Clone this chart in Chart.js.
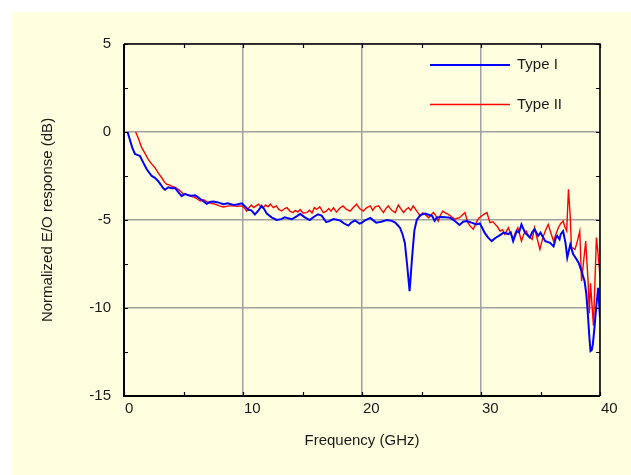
<!DOCTYPE html>
<html lang="en">
<head>
<meta charset="utf-8" />
<title>Normalized E/O response</title>
<script src="https://cdn.jsdelivr.net/npm/chart.js@4.4.1/dist/chart.umd.min.js"></script>
<style>
  html,body{margin:0;padding:0;background:#fff;}
  canvas{display:block;}
</style>
</head>
<body>
<canvas id="eo" width="631" height="475"></canvas>
<script>
// Measured E/O response of the two modulator types (frequency in GHz, response in dB)
const freqTypeI = [
  0.3, 0.5, 0.7, 0.92, 1.1, 1.34, 1.62, 1.9, 2.1, 2.33, 2.6, 2.86, 3.1, 3.3, 3.45, 3.6, 3.73, 4.0, 4.29, 4.55,
  4.85, 5.13, 5.4, 5.7, 5.97, 6.2, 6.5, 6.95, 7.2, 7.5, 7.9, 8.35, 8.7, 9.2, 9.5, 9.9, 10.2, 10.45, 10.7, 11.0,
  11.3, 11.57, 11.8, 12.0, 12.4, 12.83, 13.2, 13.5, 14.1, 14.5, 14.8, 15.2, 15.6, 16.0, 16.3, 16.6, 17.0, 17.3, 17.6, 17.9,
  18.2, 18.5, 18.85, 19.1, 19.4, 19.8, 20.0, 20.3, 20.7, 21.0, 21.2, 21.6, 22.1, 22.5, 22.8, 23.0, 23.2, 23.4, 23.6, 23.8,
  24.0, 24.2, 24.4, 24.6, 24.9, 25.3, 25.6, 25.9, 26.1, 26.3, 26.6, 27.0, 27.4, 27.8, 28.2, 28.5, 28.8, 29.2, 29.6, 29.9,
  30.1, 30.3, 30.6, 30.9, 31.2, 31.5, 31.9, 32.3, 32.5, 32.7, 33.0, 33.2, 33.4, 33.7, 34.1, 34.3, 34.5, 34.8, 35.0, 35.4,
  35.8, 36.1, 36.3, 36.4, 36.6, 36.7, 36.9, 37.1, 37.25, 37.5, 37.75, 38.0, 38.2, 38.45, 38.7, 38.85, 39.0, 39.1, 39.2, 39.3,
  39.4, 39.55, 39.7, 39.85, 40.0
];
const respTypeI = [
  0, -0.45, -0.9, -1.25, -1.3, -1.36, -1.74, -2.1, -2.3, -2.5, -2.6, -2.78, -3.0, -3.2, -3.28, -3.2, -3.14, -3.2, -3.18, -3.4,
  -3.64, -3.52, -3.6, -3.62, -3.6, -3.7, -3.85, -4.08, -3.98, -3.95, -4.0, -4.1, -4.05, -4.15, -4.12, -4.05, -4.25, -4.42, -4.45, -4.68,
  -4.45, -4.2, -4.4, -4.64, -4.85, -5.0, -4.95, -4.85, -4.96, -4.8, -4.65, -4.85, -5.0, -4.8, -4.68, -4.75, -5.12, -5.05, -4.95, -4.98,
  -5.05, -5.2, -5.32, -5.15, -5.02, -5.2, -5.15, -5.0, -4.88, -5.05, -5.15, -5.1, -5.0, -5.05, -5.15, -5.3, -5.45, -5.8, -6.3, -7.6,
  -9.05, -7.2, -5.6, -5.0, -4.72, -4.64, -4.7, -4.78, -5.05, -4.85, -4.83, -4.85, -4.87, -5.06, -5.28, -5.1, -5.06, -5.15, -5.25, -5.2,
  -5.44, -5.72, -6.0, -6.2, -6.02, -5.9, -5.72, -5.8, -5.7, -6.2, -5.63, -5.7, -5.25, -5.72, -6.0, -5.7, -5.53, -5.9, -5.72, -6.2,
  -6.3, -6.5, -6.0, -5.9, -6.1, -5.8, -5.63, -6.3, -7.14, -6.4, -6.95, -7.2, -7.43, -7.9, -8.47, -9.2, -10.55, -11.6, -12.45, -12.4,
  -12.06, -11.0, -9.8, -8.85, -10.55
];

const freqTypeII = [
  0.98, 1.2, 1.49, 1.75, 2.04, 2.3, 2.6, 2.9, 3.17, 3.4, 3.59, 3.8, 4.0, 4.3, 4.56, 4.8, 5.0, 5.3, 5.55, 5.9,
  6.2, 6.4, 6.7, 6.95, 7.3, 7.65, 8.0, 8.35, 8.8, 9.2, 9.5, 9.9, 10.1, 10.3, 10.5, 10.7, 10.9, 11.1, 11.3, 11.5,
  11.7, 11.9, 12.1, 12.3, 12.55, 12.8, 13.0, 13.25, 13.5, 13.7, 13.95, 14.2, 14.4, 14.6, 14.8, 15.05, 15.35, 15.6, 15.8, 16.0,
  16.2, 16.45, 16.75, 17.0, 17.2, 17.4, 17.6, 17.85, 18.1, 18.4, 18.7, 19.0, 19.25, 19.55, 19.8, 20.1, 20.4, 20.7, 20.9, 21.1,
  21.4, 21.6, 21.8, 22.0, 22.2, 22.5, 22.8, 23.05, 23.3, 23.5, 23.7, 23.9, 24.1, 24.3, 24.6, 24.9, 25.1, 25.3, 25.6, 25.8,
  26.0, 26.2, 26.4, 26.6, 26.8, 27.0, 27.25, 27.5, 27.8, 28.0, 28.2, 28.45, 28.65, 28.9, 29.1, 29.35, 29.6, 29.8, 30.05, 30.3,
  30.5, 30.75, 31.0, 31.2, 31.4, 31.6, 31.8, 32.0, 32.3, 32.5, 32.7, 32.9, 33.1, 33.4, 33.6, 33.8, 34.0, 34.3, 34.5, 34.7,
  34.95, 35.2, 35.4, 35.65, 35.9, 36.1, 36.3, 36.5, 36.7, 36.9, 37.05, 37.2, 37.35, 37.5, 37.6, 37.75, 37.9, 38.1, 38.3, 38.45,
  38.6, 38.8, 39.0, 39.1, 39.2, 39.45, 39.7, 39.85, 40.0
];
const respTypeII = [
  0, -0.35, -0.89, -1.2, -1.55, -1.8, -2.03, -2.35, -2.6, -2.85, -2.97, -3.0, -3.07, -3.15, -3.26, -3.4, -3.54, -3.55, -3.64, -3.7,
  -3.82, -3.92, -3.85, -3.96, -4.05, -4.1, -4.2, -4.26, -4.2, -4.2, -4.22, -4.2, -4.3, -4.49, -4.3, -4.15, -4.3, -4.2, -4.1, -4.25,
  -4.3, -4.15, -4.25, -4.1, -4.3, -4.2, -4.4, -4.49, -4.35, -4.3, -4.5, -4.58, -4.45, -4.55, -4.4, -4.6, -4.58, -4.45, -4.6, -4.3,
  -4.4, -4.25, -4.58, -4.5, -4.35, -4.5, -4.3, -4.55, -4.35, -4.2, -4.4, -4.5, -4.3, -4.1, -4.35, -4.49, -4.3, -4.2, -4.45, -4.25,
  -4.2, -4.4, -4.58, -4.35, -4.2, -4.45, -4.58, -4.15, -4.4, -4.58, -4.4, -4.3, -4.45, -4.2, -4.5, -4.77, -4.6, -4.68, -4.87, -4.7,
  -4.58, -4.75, -5.06, -4.7, -4.49, -4.6, -4.68, -4.8, -4.96, -4.9, -4.87, -4.7, -4.58, -5.15, -5.35, -5.53, -5.15, -4.9, -4.77, -4.65,
  -4.58, -5.15, -5.1, -5.25, -5.4, -5.63, -5.55, -5.81, -5.44, -5.8, -6.1, -5.7, -5.44, -6.2, -5.8, -5.63, -5.9, -6.1, -5.44, -6.0,
  -6.67, -6.0, -5.63, -5.25, -5.8, -6.2, -5.8, -5.44, -5.2, -5.06, -5.4, -5.63, -3.26, -4.8, -6.57, -6.6, -6.67, -6.2, -5.63, -8.47,
  -7.5, -6.2, -8.5, -10.3, -8.6, -11.0, -6.0, -7.0, -8.2
];

const seriesNames = ['Type I', 'Type II'];
const seriesColors = ['#0000ff', '#ff0000'];
const xTicks = [0, 10, 20, 30, 40];
const yTicks = [5, 0, -5, -10, -15];

const PANEL = '#ffffe0';
const INK = '#1a1a1a';
const FONT = "'Liberation Sans', Arial, sans-serif";

const pts = (xs, ys) => xs.map((x, i) => ({ x, y: ys[i] }));

// cream panel behind the whole figure (leaves a thin white margin top/left)
const panelBg = {
  id: 'panelBg',
  beforeDraw(chart) {
    const c = chart.ctx;
    c.save();
    c.fillStyle = PANEL;
    c.fillRect(12, 12, chart.width - 12, chart.height - 12);
    c.restore();
  }
};

// black frame round the plot plus small inward ticks on all four sides
const frame = {
  id: 'frame',
  afterDatasetsDraw(chart) {
    const { ctx: c, chartArea: a, scales: { x, y } } = chart;
    c.save();
    c.strokeStyle = '#000';
    c.lineWidth = 1.2;
    c.beginPath();
    for (let f = 0; f <= 40; f += 5) {
      const px = Math.round(x.getPixelForValue(f)) + 0.5;
      c.moveTo(px, a.bottom); c.lineTo(px, a.bottom - 4);
      c.moveTo(px, a.top); c.lineTo(px, a.top + 4);
    }
    for (let v = -15; v <= 5; v += 2.5) {
      const py = Math.round(y.getPixelForValue(v)) + 0.5;
      c.moveTo(a.left, py); c.lineTo(a.left + 4, py);
      c.moveTo(a.right, py); c.lineTo(a.right - 4, py);
    }
    c.stroke();
    c.lineWidth = 1.5;
    c.beginPath();
    c.moveTo(a.left, a.top); c.lineTo(a.right, a.top); c.lineTo(a.right, a.bottom);
    c.stroke();
    c.lineWidth = 2;
    c.beginPath();
    c.moveTo(a.left, a.top); c.lineTo(a.left, a.bottom); c.lineTo(a.right, a.bottom);
    c.stroke();
    c.restore();
  }
};

// legend sits inside the plot, top right
const insideLegend = {
  id: 'insideLegend',
  afterDraw(chart) {
    const c = chart.ctx;
    c.save();
    c.font = '15px ' + FONT;
    c.textBaseline = 'middle';
    c.fillStyle = INK;
    chart.data.datasets.forEach((ds, i) => {
      const ly = 65 + i * 39.5;
      c.strokeStyle = ds.borderColor;
      c.lineWidth = ds.borderWidth;
      c.beginPath();
      c.moveTo(430, ly); c.lineTo(510, ly);
      c.stroke();
      c.fillText(ds.label, 517, ly);
    });
    c.restore();
  }
};

new Chart(document.getElementById('eo'), {
  type: 'line',
  data: {
    datasets: [
      { label: seriesNames[0], data: pts(freqTypeI, respTypeI), borderColor: seriesColors[0], borderWidth: 2,
        pointRadius: 0, tension: 0, fill: false },
      { label: seriesNames[1], data: pts(freqTypeII, respTypeII), borderColor: seriesColors[1], borderWidth: 1.4,
        pointRadius: 0, tension: 0, fill: false }
    ]
  },
  options: {
    responsive: false,
    animation: false,
    devicePixelRatio: 1,
    layout: { padding: { top: 44, right: 31, left: 0, bottom: 0 } },
    plugins: { legend: { display: false }, tooltip: { enabled: false } },
    scales: {
      x: {
        type: 'linear', min: 0, max: 40,
        afterFit(s) { s.height = 79; },
        afterBuildTicks(s) { s.ticks = xTicks.map(value => ({ value })); },
        grid: { color: '#a0a0a0', lineWidth: 1.5, drawTicks: false },
        border: { display: false },
        ticks: { color: INK, font: { family: FONT, size: 15 }, padding: 4, align: 'start', labelOffset: 1, maxRotation: 0 },
        title: { display: true, text: 'Frequency (GHz)', color: INK, font: { family: FONT, size: 15 }, padding: { top: 0, bottom: 25 } }
      },
      y: {
        min: -15, max: 5,
        afterFit(s) { s.width = 124; },
        afterBuildTicks(s) { s.ticks = yTicks.map(value => ({ value })); },
        grid: { color: '#a0a0a0', lineWidth: 1.5, drawTicks: false },
        border: { display: false },
        ticks: { color: INK, font: { family: FONT, size: 15 }, padding: 13 },
        title: { display: true, text: 'Normalized E/O response (dB)', color: INK, font: { family: FONT, size: 15 }, padding: { top: 39, bottom: 0 } }
      }
    }
  },
  plugins: [panelBg, frame, insideLegend]
});
</script>
</body>
</html>
